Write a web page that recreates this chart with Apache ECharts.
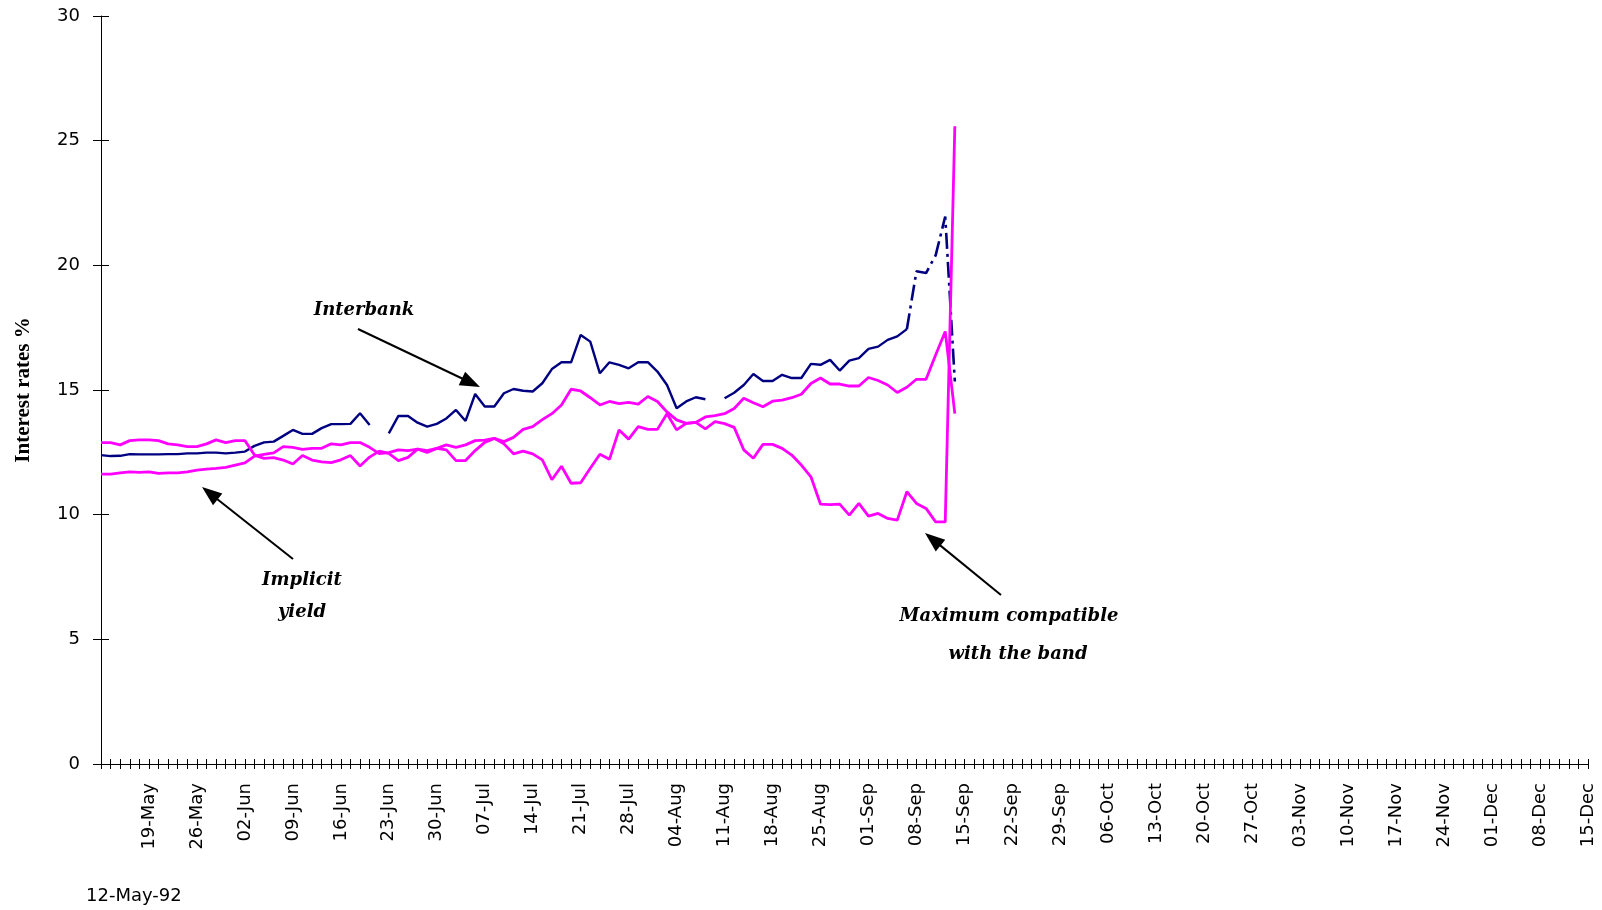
<!DOCTYPE html>
<html>
<head>
<meta charset="utf-8">
<script src="https://cdn.jsdelivr.net/npm/echarts@6/dist/echarts.min.js"></script>
<style>
html,body{margin:0;padding:0;background:#fff;}
#c{width:1602px;height:910px;}
</style>
</head>
<body>
<div id="c"></div>
<script>
// ---- data (business days from 12-May-92) ----
const startYear = 1992, startMonth = 4, startDay = 12;   // 12-May-1992
const businessDayCount = 156;                            // through 15-Dec
const firstDateLabel = '12-May-92';
const monthNames = ['Jan','Feb','Mar','Apr','May','Jun','Jul','Aug','Sep','Oct','Nov','Dec'];
const yMin = 0, yMax = 30, yStep = 5;
const yAxisTitle = 'Interest rates %';
const dashedFromIndex = 84;   // interbank drawn dash-dot from here on

const interbank = [
  12.39, 12.35, 12.36, 12.43, 12.42, 12.42, 12.42, 12.43, 12.43, 12.46,
  12.46, 12.49, 12.49, 12.46, 12.49, 12.53, 12.76, 12.90, 12.93, 13.16,
  13.40, 13.24, 13.24, 13.47, 13.63, 13.63, 13.64, 14.07, 13.60, null,
  13.26, 13.96, 13.96, 13.69, 13.53, 13.64, 13.86, 14.20, 13.76, 14.84,
  14.34, 14.34, 14.87, 15.04, 14.97, 14.94, 15.27, 15.84, 16.11, 16.11,
  17.21, 16.94, 15.67, 16.11, 16.01, 15.87, 16.11, 16.12, 15.74, 15.20,
  14.27, 14.54, 14.71, 14.63, null,  14.67, 14.89, 15.20, 15.64, 15.36,
  15.36, 15.61, 15.48, 15.48, 16.05, 16.01, 16.21, 15.78, 16.18, 16.28,
  16.65, 16.74, 17.01, 17.15, 17.44, 19.76, 19.69, 20.40, 21.96, 15.34
];
const implicitYield = [
  11.63, 11.63, 11.68, 11.72, 11.70, 11.72, 11.66, 11.68, 11.68, 11.72,
  11.79, 11.83, 11.86, 11.90, 11.99, 12.08, 12.35, 12.42, 12.48, 12.73,
  12.70, 12.62, 12.66, 12.66, 12.84, 12.80, 12.89, 12.89, 12.70, 12.45,
  12.49, 12.60, 12.57, 12.63, 12.57, 12.66, 12.80, 12.70, 12.80, 12.97,
  12.99, 13.06, 12.93, 13.10, 13.42, 13.53, 13.81, 14.05, 14.40, 15.03,
  14.96, 14.69, 14.40, 14.54, 14.45, 14.50, 14.43, 14.74, 14.54, 14.12,
  13.80, 13.66, 13.70, 13.92, 13.97, 14.05, 14.26, 14.67, 14.49, 14.33,
  14.55, 14.59, 14.69, 14.83, 15.26, 15.48, 15.24, 15.24, 15.16, 15.16,
  15.50, 15.38, 15.20, 14.90, 15.11, 15.43, 15.43, 16.40, 17.35, 14.05
];
const maxCompatible = [
  12.89, 12.89, 12.80, 12.97, 13.00, 13.00, 12.97, 12.84, 12.80, 12.73,
  12.73, 12.84, 13.00, 12.89, 12.97, 12.97, 12.39, 12.26, 12.29, 12.19,
  12.03, 12.37, 12.19, 12.12, 12.09, 12.20, 12.37, 11.95, 12.31, 12.55,
  12.46, 12.17, 12.30, 12.63, 12.50, 12.66, 12.60, 12.17, 12.17, 12.57,
  12.90, 13.06, 12.84, 12.44, 12.55, 12.44, 12.20, 11.40, 11.94, 11.26,
  11.28, 11.86, 12.42, 12.22, 13.40, 13.03, 13.53, 13.42, 13.42, 14.05,
  13.40, 13.66, 13.70, 13.44, 13.73, 13.65, 13.50, 12.60, 12.26, 12.82,
  12.82, 12.66, 12.39, 11.99, 11.52, 10.42, 10.40, 10.42,  9.98, 10.45,
   9.94, 10.05,  9.85,  9.78, 10.92, 10.45, 10.25,  9.71,  9.71, 25.58
];

const annotations = {
  interbank: 'Interbank',
  implicit1: 'Implicit',
  implicit2: 'yield',
  max1: 'Maximum compatible',
  max2: 'with the band'
};

// ---- categories: business days ----
function buildCategories() {
  const out = [];
  const d = new Date(Date.UTC(startYear, startMonth, startDay));
  while (out.length < businessDayCount) {
    const wd = d.getUTCDay();
    if (wd !== 0 && wd !== 6) {
      out.push(String(d.getUTCDate()).padStart(2, '0') + '-' + monthNames[d.getUTCMonth()]);
    }
    d.setUTCDate(d.getUTCDate() + 1);
  }
  return out;
}
const categories = buildCategories();
const interbankSolid = interbank.map(function (v, i) { return i <= dashedFromIndex ? v : null; });
const interbankDashed = interbank.map(function (v, i) { return i >= dashedFromIndex ? v : null; });

// ---- annotation helpers ----
function arrow(x1, y1, x2, y2) {
  const headLen = 20, headHalf = 7.5;
  const dx = x2 - x1, dy = y2 - y1;
  const L = Math.sqrt(dx * dx + dy * dy);
  const ux = dx / L, uy = dy / L;
  const bx = x2 - ux * headLen, by = y2 - uy * headLen;
  const px = -uy, py = ux;
  return [
    { type: 'line', shape: { x1: x1, y1: y1, x2: bx + ux * 2, y2: by + uy * 2 },
      style: { stroke: '#000', lineWidth: 2 }, silent: true, z: 10 },
    { type: 'polygon',
      shape: { points: [[x2, y2], [bx + px * headHalf, by + py * headHalf], [bx - px * headHalf, by - py * headHalf]] },
      style: { fill: '#000' }, silent: true, z: 10 }
  ];
}
function label(text, x, y) {
  return { type: 'text', x: x, y: y, silent: true, z: 10,
    style: { text: text, fill: '#000', font: 'italic bold 18px "DejaVu Serif", serif',
      textAlign: 'center', textVerticalAlign: 'middle' } };
}

const chart = echarts.init(document.getElementById('c'), null, { renderer: 'canvas' });
const AXC = '#000';
const NAVY = '#000080', MAGENTA = '#FF00FF';
const option = {
  animation: false,
  backgroundColor: '#fff',
  grid: { left: 101, right: 14, top: 16, bottom: 146, containLabel: false },
  xAxis: [
    {
      type: 'category', data: categories, boundaryGap: false,
      axisLine: { show: true, lineStyle: { color: AXC, width: 1 } },
      axisTick: { show: true, interval: 0, length: 5, inside: false, lineStyle: { color: AXC, width: 1 } },
      axisLabel: {
        interval: function (i) { return i > 0 && i % 5 === 0; },
        rotate: 90, margin: 19, color: '#000',
        fontFamily: 'DejaVu Sans', fontSize: 18
      },
      splitLine: { show: false }
    },
    {
      type: 'category', data: categories, boundaryGap: false, position: 'bottom',
      axisLine: { show: false },
      axisTick: { show: true, interval: 0, length: 5, inside: true, lineStyle: { color: AXC, width: 1 } },
      axisLabel: { show: false }, splitLine: { show: false }
    }
  ],
  yAxis: [
    {
      type: 'value', min: yMin, max: yMax, interval: yStep,
      name: yAxisTitle, nameLocation: 'middle', nameGap: 67, nameRotate: 90,
      nameTextStyle: { fontFamily: 'Liberation Serif', fontWeight: 'bold', fontSize: 21, color: '#000' },
      axisLine: { show: true, lineStyle: { color: AXC, width: 1 } },
      axisTick: { show: true, length: 8, lineStyle: { color: AXC, width: 1 } },
      axisLabel: { margin: 21, color: '#000', fontFamily: 'DejaVu Sans', fontSize: 18 },
      splitLine: { show: false }
    },
    {
      type: 'value', min: yMin, max: yMax, interval: yStep, position: 'left',
      axisLine: { show: false },
      axisTick: { show: true, inside: true, length: 8, lineStyle: { color: AXC, width: 1 } },
      axisLabel: { show: false }, splitLine: { show: false }
    }
  ],
  series: [
    { name: 'Interbank', type: 'line', data: interbankSolid, xAxisIndex: 0, yAxisIndex: 0,
      symbol: 'none', connectNulls: false, smooth: false,
      lineStyle: { color: NAVY, width: 2.4 }, itemStyle: { color: NAVY },
      emphasis: { disabled: true }, z: 2 },
    { name: 'Interbank (tail)', type: 'line', data: interbankDashed, xAxisIndex: 0, yAxisIndex: 0,
      symbol: 'none', connectNulls: false, smooth: false,
      lineStyle: { color: NAVY, width: 2.6, type: [16, 5, 3, 5] }, itemStyle: { color: NAVY },
      emphasis: { disabled: true }, z: 2 },
    { name: 'Implicit yield', type: 'line', data: implicitYield, xAxisIndex: 0, yAxisIndex: 0,
      symbol: 'none', smooth: false,
      lineStyle: { color: MAGENTA, width: 2.8 }, itemStyle: { color: MAGENTA },
      emphasis: { disabled: true }, z: 3 },
    { name: 'Maximum compatible with the band', type: 'line', data: maxCompatible, xAxisIndex: 0, yAxisIndex: 0,
      symbol: 'none', smooth: false,
      lineStyle: { color: MAGENTA, width: 2.8 }, itemStyle: { color: MAGENTA },
      emphasis: { disabled: true }, z: 3 }
  ],
  graphic: [
    { type: 'text', x: 86, y: 896, silent: true,
      style: { text: firstDateLabel, fill: '#000', font: '18px "DejaVu Sans", sans-serif', textVerticalAlign: 'middle' } },
    label(annotations.interbank, 364, 310),
    label(annotations.implicit1, 302, 580),
    label(annotations.implicit2, 302, 612),
    label(annotations.max1, 1009, 616),
    label(annotations.max2, 1018, 654)
  ].concat(arrow(358, 329, 480, 387))
   .concat(arrow(293, 559, 202, 487))
   .concat(arrow(1001, 595, 925, 533))
};
chart.setOption(option);
</script>
</body>
</html>
